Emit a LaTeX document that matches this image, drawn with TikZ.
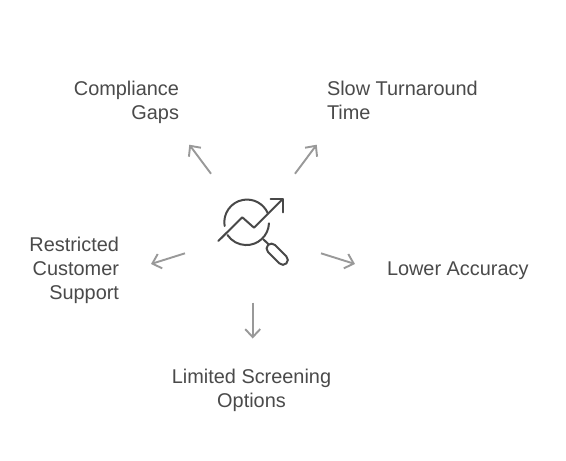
\documentclass[tikz,border=0pt]{standalone}
\usepackage{fontspec}
\setmainfont{Liberation Sans}
\usetikzlibrary{arrows.meta}
\tikzset{
  lbl/.style={font=\fontsize{19.9}{24}\selectfont, text=txtc, inner sep=0pt, outer sep=0pt},
  conn/.style={draw=arrc, line width=1.9pt, -{Straight Barb[length=8pt,width=15pt,line width=1.9pt]}},
  ico/.style={draw=icoc, line width=2pt, line cap=round, line join=round}
}
\definecolor{txtc}{HTML}{4A4A4A}
\definecolor{arrc}{HTML}{999999}
\definecolor{icoc}{HTML}{484848}
\begin{document}
\begin{tikzpicture}[x=1pt,y=1pt]
\useasboundingbox (0,0) rectangle (566,-461);
\fill[white] (0,0) rectangle (566,-461);
\node[lbl,align=right,anchor=east] (gaps) at (179,-102.4) {Compliance\\Gaps};
\node[lbl,align=left,anchor=west] (slow) at (327,-100.6) {Slow Turnaround\\Time};
\node[lbl,align=right,anchor=east] (support) at (119,-270.4) {Restricted\\Customer\\Support};
\node[lbl,align=left,anchor=west] (acc) at (387,-270.8) {Lower Accuracy};
\node[lbl,align=center] (opts) at (251.5,-390.4) {Limited Screening\\Options};
% connectors
\coordinate (s1) at (211,-173.7); \coordinate (e1) at (189.3,-144.7);
\coordinate (s2) at (295,-173.7); \coordinate (e2) at (316.7,-144.7);
\coordinate (s3) at (185,-253.3); \coordinate (e3) at (151,-264);
\coordinate (s4) at (321,-253.3); \coordinate (e4) at (355,-264);
\coordinate (s5) at (252.7,-302.7); \coordinate (e5) at (252.7,-338.5);
\draw[conn] (s1) -- (e1);
\draw[conn] (s2) -- (e2);
\draw[conn] (s3) -- (e3);
\draw[conn] (s4) -- (e4);
\draw[conn] (s5) -- (e5);
% icon
\draw[ico] (224.6,-226) arc[start angle=189.5,end angle=23,radius=22.7];
\draw[ico] (269,-223.3) arc[start angle=-2.4,end angle=-146,radius=22.7];
\draw[ico] (218.3,-241) -- (242.3,-217.3) -- (254,-227.7) -- (282.7,-199);
\draw[ico] (270.7,-199) -- (282.7,-199) -- (282.7,-212.3);
\draw[ico] (263.3,-239.3) -- (268.3,-244);
\node[ico,rectangle,rounded corners=4.9pt,minimum width=26pt,minimum height=9.8pt,inner sep=0pt,rotate=-45] (handle) at (277.2,-254.2) {};
\end{tikzpicture}
\end{document}
